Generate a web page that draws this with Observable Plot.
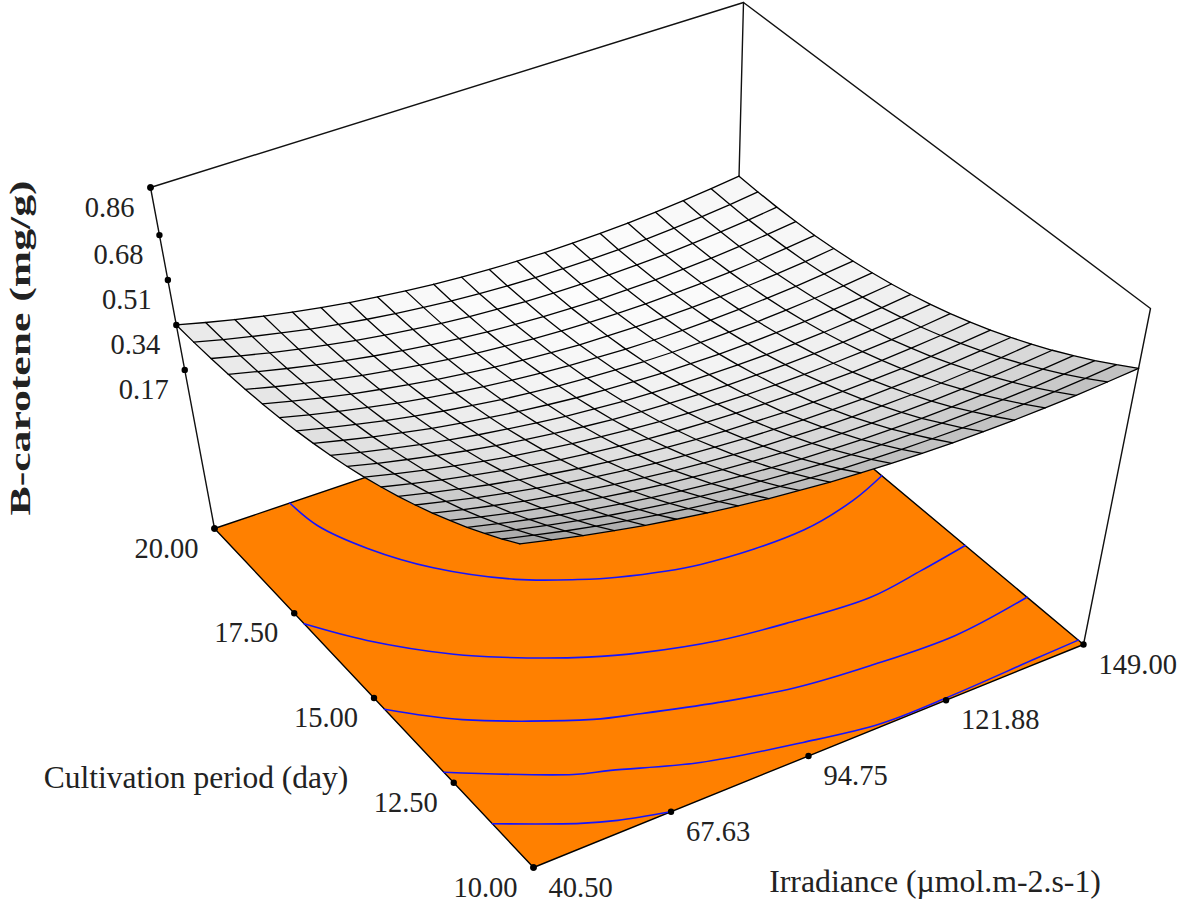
<!DOCTYPE html>
<html>
<head>
<meta charset="utf-8">
<style>html,body{margin:0;padding:0;background:#fff}svg{display:block}</style>
<script src="https://cdn.jsdelivr.net/npm/d3@7"></script>
<script src="https://cdn.jsdelivr.net/npm/@observablehq/plot@0.6"></script>
</head>
<body>
<div id="chart"></div>
<script>
// ---------- data ----------
const irrTicks = [40.5, 67.63, 94.75, 121.88, 149];
const dayTicks = [10, 12.5, 15, 17.5, 20];
const zTicks = [0.17, 0.34, 0.51, 0.68, 0.86];
const zFloor = -0.43;
const zTop = 0.86;

const irrGrid = [40.5,45.925,51.35,56.775,62.2,67.625,73.05,78.475,83.9,89.325,94.75,100.175,105.6,111.025,116.45,121.875,127.3,132.725,138.15,143.575,149];
const dayGrid = [10,10.5,11,11.5,12,12.5,13,13.5,14,14.5,15,15.5,16,16.5,17,17.5,18,18.5,19,19.5,20];

// beta-carotene (mg/g): one row per dayGrid value, one column per irrGrid value
const carotene = [
[.820,.792,.765,.741,.718,.698,.679,.663,.648,.636,.625,.617,.610,.606,.603,.603,.604,.608,.613,.621,.630],
[.772,.744,.717,.693,.671,.650,.632,.616,.601,.589,.579,.570,.564,.560,.558,.557,.559,.563,.568,.576,.586],
[.727,.699,.673,.649,.626,.606,.588,.572,.558,.546,.536,.527,.521,.517,.515,.515,.517,.521,.526,.534,.544],
[.684,.656,.630,.606,.584,.564,.546,.530,.516,.504,.494,.486,.480,.476,.474,.474,.476,.480,.487,.495,.505],
[.644,.616,.590,.567,.545,.525,.507,.491,.478,.466,.456,.448,.442,.439,.437,.437,.439,.443,.450,.458,.468],
[.606,.578,.553,.529,.508,.488,.470,.455,.441,.429,.420,.412,.407,.403,.401,.402,.404,.408,.415,.423,.434],
[.571,.544,.518,.495,.473,.454,.436,.421,.407,.396,.387,.379,.374,.370,.369,.369,.372,.376,.383,.392,.402],
[.538,.511,.486,.462,.441,.422,.404,.389,.376,.365,.355,.348,.343,.339,.338,.339,.342,.346,.353,.362,.373],
[.508,.481,.456,.433,.412,.393,.375,.360,.347,.336,.327,.320,.315,.312,.311,.312,.314,.319,.326,.335,.346],
[.480,.453,.428,.405,.384,.365,.349,.334,.321,.310,.301,.294,.289,.286,.285,.286,.289,.294,.301,.310,.322],
[.455,.428,.404,.381,.360,.341,.325,.310,.297,.286,.278,.271,.266,.263,.263,.264,.267,.272,.280,.289,.300],
[.432,.405,.381,.358,.338,.319,.303,.288,.275,.265,.256,.250,.245,.243,.242,.243,.247,.252,.260,.269,.281],
[.412,.386,.361,.339,.318,.300,.284,.269,.257,.246,.238,.232,.227,.225,.224,.226,.230,.235,.243,.252,.264],
[.394,.368,.344,.321,.301,.283,.267,.252,.240,.230,.222,.216,.211,.209,.209,.211,.214,.220,.228,.238,.250],
[.379,.353,.329,.307,.287,.269,.253,.239,.227,.217,.209,.203,.198,.196,.196,.198,.202,.208,.216,.226,.238],
[.366,.340,.316,.294,.275,.257,.241,.227,.215,.205,.197,.191,.188,.186,.186,.188,.192,.198,.206,.216,.229],
[.356,.330,.307,.285,.265,.248,.232,.218,.206,.197,.189,.183,.180,.178,.178,.181,.185,.191,.199,.210,.222],
[.348,.323,.299,.277,.258,.240,.225,.211,.200,.190,.183,.177,.174,.172,.173,.175,.180,.186,.195,.205,.218],
[.343,.318,.294,.273,.254,.236,.221,.208,.196,.187,.180,.174,.171,.170,.170,.173,.177,.184,.193,.203,.216],
[.340,.315,.292,.271,.251,.234,.219,.206,.195,.185,.178,.173,.170,.169,.170,.172,.177,.184,.193,.204,.217],
[.340,.315,.292,.271,.252,.235,.220,.207,.196,.187,.180,.175,.172,.171,.172,.175,.180,.187,.196,.207,.220]
];

// contour lines on the floor, as [irradiance, day] pairs
const contourA = [[56.2,20],[57.1,19.28],[61.4,18.37],[68.5,17.41],[79.1,16.48],[88.3,15.96],[94.5,15.68],[108.6,15.27],[128.9,15.18],[140.9,15.45],[149,15.78]];
const contourB = [[40.5,17.19],[47.7,16.32],[58.7,15.31],[65.5,14.84],[78,14.13],[86.8,13.76],[99.4,13.38],[111.6,13.18],[127.4,13.03],[138.9,13.2],[149,13.39]];
const contourC = [[40.5,14.67],[50.6,13.8],[69.7,12.7],[77.3,12.42],[90.1,11.99],[103.2,11.64],[116.9,11.47],[133.2,11.39],[149,11.62]];
const contourD = [[40.5,12.81],[59,11.66],[64.9,11.43],[78.7,10.82],[96,10.35],[109.4,10.07],[121.5,10.05],[140.3,10.12],[149,10.15]];
const contourE = [[40.5,11.29],[53.2,10.54],[58.9,10.28],[67.6,10]];
const contours = [contourA, contourB, contourC, contourD, contourE];

// ---------- view: where the eight box corners fall on the page ----------
const view = {
  floor: {a:[533,867], b:[1083,644], c:[214,528], d:[734,352]},
  top:   {a:[519,533], b:[1150,308], c:[150,187], d:[743,2]}
};
function project(irr, day, z) {
  const u = (irr - 40.5) / 108.5, v = (day - 10) / 10, f = (z - zFloor) / (zTop - zFloor);
  const bil = (q, k) => (1-u)*(1-v)*q.a[k] + u*(1-v)*q.b[k] + (1-u)*v*q.c[k] + u*v*q.d[k];
  return [bil(view.floor,0)*(1-f) + bil(view.top,0)*f, bil(view.floor,1)*(1-f) + bil(view.top,1)*f];
}
const P = (irr, day, z, extra = {}) => { const [x, y] = project(irr, day, z); return {x, y, ...extra}; };

// ---------- derived rows ----------
const floorRing = [[40.5,10],[149,10],[149,20],[40.5,20],[40.5,10]].map(([i,d]) => P(i,d,zFloor));

const contourRows = contours.flatMap((c, k) => c.map(([i,d]) => P(i,d,zFloor,{k})));

const boxRows = [
  [[40.5,20,zFloor],[40.5,20,zTop],[149,20,zTop],[149,10,zTop],[149,10,zFloor]],
  [[149,20,zFloor],[149,20,zTop]]
].flatMap((e, k) => e.map(([i,d,z]) => P(i,d,z,{k})));

const cellRows = [];
for (let j = 19; j >= 0; j--) for (let i = 0; i < 20; i++) {
  const z = carotene;
  const du = (z[j][i+1]-z[j][i]+z[j+1][i+1]-z[j+1][i]) / 2 / 0.05;
  const dv = (z[j+1][i]-z[j][i]+z[j+1][i+1]-z[j][i+1]) / 2 / 0.05;
  const g = Math.round(252 - 70*(du*du+dv*dv));
  const shade = `rgb(${g},${g},${g})`;
  const cell = `${j}-${i}`;
  for (const [a,b] of [[i,j],[i+1,j],[i+1,j+1],[i,j+1],[i,j]])
    cellRows.push(P(irrGrid[a], dayGrid[b], z[b][a], {cell, shade}));
}
const gridRows = [];
irrGrid.forEach((ir,i) => dayGrid.forEach((dy,j) => gridRows.push(P(ir,dy,carotene[j][i],{k:`i${i}`}))));
dayGrid.forEach((dy,j) => irrGrid.forEach((ir,i) => gridRows.push(P(ir,dy,carotene[j][i],{k:`d${j}`}))));

const zTickRows = zTicks.map(z => P(40.5,20,z,{label:z.toFixed(2)}));
const dayTickRows = dayTicks.map(d => P(40.5,d,zFloor,{label:d.toFixed(2)}));
const irrTickRows = irrTicks.map(i => P(i,10,zFloor,{label:i.toFixed(2)}));
const dotRows = [...zTickRows, ...dayTickRows, ...irrTickRows, P(40.5,20,zFloor), P(40.5,20,zTop)];

const serif = "Liberation Serif";
const tickFont = {fontFamily: serif, fontSize: 28.5, fill: "#222"};

const chart = Plot.plot({
  width: 1181, height: 903, margin: 0,
  x: {domain: [0,1181], range: [0,1181], axis: null},
  y: {domain: [0,903], range: [0,903], axis: null},
  color: {type: "identity"},
  marks: [
    Plot.line(floorRing, {x:"x", y:"y", fill:"#ff8000", stroke:"#000", strokeWidth:1.4}),
    Plot.line(contourRows, {x:"x", y:"y", z:"k", stroke:"#1414ff", strokeWidth:1.6, curve:"catmull-rom"}),
    Plot.line(boxRows, {x:"x", y:"y", z:"k", stroke:"#111", strokeWidth:1.4}),
    Plot.line(cellRows, {x:"x", y:"y", z:"cell", fill:"shade", stroke:"shade", strokeWidth:0.6}),
    Plot.line(gridRows, {x:"x", y:"y", z:"k", stroke:"#000", strokeWidth:1.3}),
    Plot.dot(dotRows, {x:"x", y:"y", r:3.2, fill:"#000", stroke:"none"}),
    Plot.text(zTickRows, {x:"x", y:"y", text:"label", dx:-16, dy:20, textAnchor:"end", ...tickFont}),
    Plot.text(dayTickRows, {x:"x", y:"y", text:"label", dx:-16, dy:20, textAnchor:"end", ...tickFont}),
    Plot.text(irrTickRows, {x:"x", y:"y", text:"label", dx:15, dy:20, textAnchor:"start", ...tickFont}),
    Plot.text([P(40.5,15,zFloor,{t:"Cultivation period (day)"})], {x:"x", y:"y", text:"t", dx:-178, dy:80, fontFamily:serif, fontSize:31.5, fill:"#222"}),
    Plot.text([P(121.88,10,zFloor,{t:"Irradiance (µmol.m-2.s-1)"})], {x:"x", y:"y", text:"t", dx:-11, dy:182, fontFamily:serif, fontSize:31.8, fill:"#222"}),
    Plot.text([P(40.5,20,0.34,{t:"B-carotene (mg/g)"})], {x:"x", y:"y", text:"t", dx:-156, dy:23, rotate:-90, fontFamily:serif, fontSize:30, fontWeight:"bold", fill:"#222"})
  ]
});
document.getElementById("chart").append(chart);
chart.querySelectorAll("text").forEach(t => {
  if (t.textContent.startsWith("B-carotene")) { t.setAttribute("textLength", 335); t.setAttribute("lengthAdjust","spacingAndGlyphs"); }
});
</script>
</body>
</html>
